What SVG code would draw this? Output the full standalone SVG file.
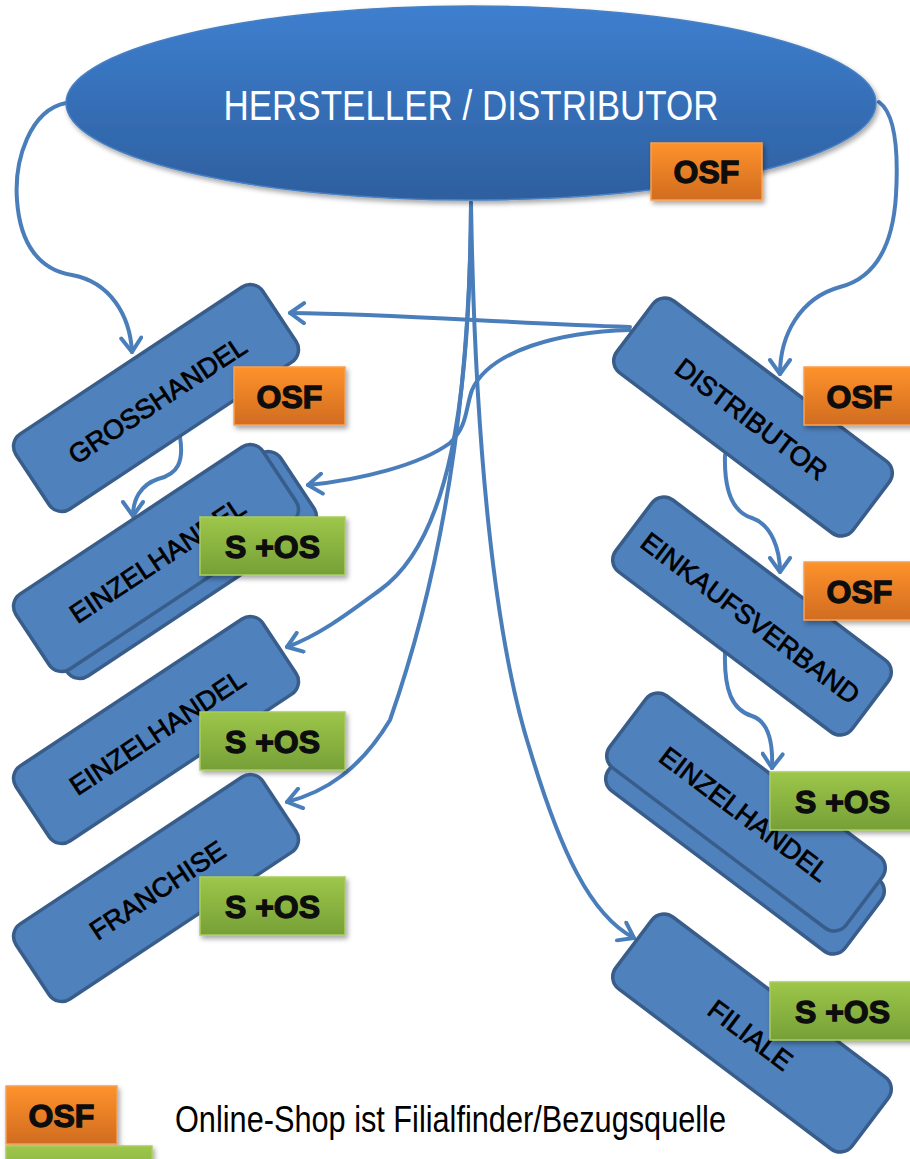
<svg xmlns="http://www.w3.org/2000/svg" width="910" height="1159" viewBox="0 0 910 1159">
<defs>
<style>
.box{fill:#4f81bd;stroke:#385d8a;stroke-width:3.5}
.bt{font-family:"Liberation Sans",Arial,sans-serif;font-size:27px;fill:#000;stroke:#000;stroke-width:0.75;text-anchor:middle}
.con{fill:none;stroke:#4a7ebb;stroke-width:4;stroke-linecap:round}
.arr{marker-end:url(#ah)}
.osf{fill:url(#og);stroke:#f7a050;stroke-width:1.5}
.sos{fill:url(#gg);stroke:#a9cd5f;stroke-width:1.5}
.badt{font-family:"Liberation Sans",Arial,sans-serif;font-weight:bold;font-size:32px;fill:#0d0d0d;stroke:#0d0d0d;stroke-width:1.3;text-anchor:middle}
</style>
<linearGradient id="eg" x1="0" y1="0" x2="0" y2="1">
<stop offset="0" stop-color="#3e7fcf"/>
<stop offset="1" stop-color="#2d5f9f"/>
</linearGradient>
<linearGradient id="og" x1="0" y1="0" x2="0" y2="1">
<stop offset="0" stop-color="#fe922c"/>
<stop offset="1" stop-color="#d16c20"/>
</linearGradient>
<linearGradient id="gg" x1="0" y1="0" x2="0" y2="1">
<stop offset="0" stop-color="#9dc64a"/>
<stop offset="1" stop-color="#76a037"/>
</linearGradient>
<filter id="sh" x="-20%" y="-20%" width="150%" height="160%">
<feDropShadow dx="2" dy="3" stdDeviation="2.5" flood-color="#000" flood-opacity="0.35"/>
</filter>
<marker id="ah" viewBox="0 0 20 24" refX="17" refY="12" markerWidth="20" markerHeight="24" markerUnits="userSpaceOnUse" orient="auto">
<path d="M3,2 L17,12 L3,22" fill="none" stroke="#4a7ebb" stroke-width="4" stroke-linecap="round" stroke-linejoin="round"/>
</marker>
</defs>

<g id="connectors">
<path class="con arr" d="M 66,103 C 30,110 14,160 17,200 C 20,245 40,270 72,275 C 110,282 130,315 132,352"/>
<path class="con arr" d="M 879,102 C 897,115 898,160 896,195 C 893,245 875,278 840,287 C 800,298 780,335 780,374"/>
<path class="con arr" d="M 180,437 C 184,462 178,474 158,479 C 140,485 133,500 133,516"/>
<path class="con arr" d="M 725,455 C 724,490 732,512 752,518 C 772,525 780,550 780,572"/>
<path class="con arr" d="M 725,653 C 724,690 732,710 752,716 C 770,722 773,745 772,768"/>
<path class="con arr" d="M 630,327 C 500,323 400,314 290,313"/>
<path class="con arr" d="M 630,330 C 560,332 490,350 472,390 C 465,410 468,425 450,443 C 420,465 360,480 308,485"/>
<path class="con arr" d="M 471,203 C 470,400 450,540 380,590 C 350,612 320,635 287,647"/>
<path class="con arr" d="M 471,203 C 470,430 432,600 390,720 C 360,770 325,792 287,802"/>
<path class="con arr" d="M 471,203 C 475,450 495,640 530,750 C 560,850 590,915 634,938"/>
</g>

<g id="hersteller">
<ellipse cx="471" cy="103" rx="405" ry="97" fill="url(#eg)" stroke="#4a80c4" stroke-width="1.5" filter="url(#sh)"/>
<text x="471" y="120" font-family="'Liberation Sans',Arial,sans-serif" font-size="42" fill="#fff" text-anchor="middle" textLength="495" lengthAdjust="spacingAndGlyphs">HERSTELLER / DISTRIBUTOR</text>
<rect class="osf" x="651" y="143" width="111" height="57" filter="url(#sh)"/>
<text class="badt" x="706.5" y="183">OSF</text>
</g>

<g id="grosshandel">
<g transform="translate(156,398) rotate(-33.5)">
<rect class="box" x="-148" y="-45" width="296" height="90" rx="15"/>
<text class="bt" x="0" y="12">GROSSHANDEL</text>
</g>
<rect class="osf" x="234" y="367" width="111" height="58" filter="url(#sh)"/>
<text class="badt" x="289.5" y="407.5">OSF</text>
</g>

<g id="einzelhandel-left-1">
<g transform="translate(174,565) rotate(-33.5)">
<rect class="box" x="-148" y="-45" width="296" height="90" rx="15"/>
</g>
<g transform="translate(156,558) rotate(-33.5)">
<rect class="box" x="-148" y="-45" width="296" height="90" rx="15"/>
<text class="bt" x="0" y="12">EINZELHANDEL</text>
</g>
<rect class="sos" x="200" y="517" width="145" height="58" filter="url(#sh)"/>
<text class="badt" x="272.5" y="557.5">S +OS</text>
</g>

<g id="einzelhandel-left-2">
<g transform="translate(156,730) rotate(-33.5)">
<rect class="box" x="-148" y="-45" width="296" height="90" rx="15"/>
<text class="bt" x="0" y="12">EINZELHANDEL</text>
</g>
<rect class="sos" x="200" y="712" width="145" height="58" filter="url(#sh)"/>
<text class="badt" x="272.5" y="752.5">S +OS</text>
</g>

<g id="franchise">
<g transform="translate(156,888) rotate(-33.5)">
<rect class="box" x="-148" y="-45" width="296" height="90" rx="15"/>
<text class="bt" x="0" y="12">FRANCHISE</text>
</g>
<rect class="sos" x="200" y="877" width="145" height="58" filter="url(#sh)"/>
<text class="badt" x="272.5" y="917.5">S +OS</text>
</g>

<g id="distributor">
<g transform="translate(753,417) rotate(37)">
<rect class="box" x="-148" y="-45" width="296" height="90" rx="15"/>
<text class="bt" x="0" y="12">DISTRIBUTOR</text>
</g>
<rect class="osf" x="804" y="367" width="111" height="58" filter="url(#sh)"/>
<text class="badt" x="859.5" y="407.5">OSF</text>
</g>

<g id="einkaufsverband">
<g transform="translate(752,616) rotate(37)">
<rect class="box" x="-148" y="-45" width="296" height="90" rx="15"/>
<text class="bt" x="0" y="12">EINKAUFSVERBAND</text>
</g>
<rect class="osf" x="804" y="562" width="111" height="58" filter="url(#sh)"/>
<text class="badt" x="859.5" y="602.5">OSF</text>
</g>

<g id="einzelhandel-right">
<g transform="translate(745,835) rotate(37)">
<rect class="box" x="-148" y="-45" width="296" height="90" rx="15"/>
</g>
<g transform="translate(746,812) rotate(37)">
<rect class="box" x="-148" y="-45" width="296" height="90" rx="15"/>
<text class="bt" x="0" y="12">EINZELHANDEL</text>
</g>
<rect class="sos" x="770" y="772" width="145" height="58" filter="url(#sh)"/>
<text class="badt" x="842.5" y="812.5">S +OS</text>
</g>

<g id="filiale">
<g transform="translate(752,1033) rotate(37)">
<rect class="box" x="-148" y="-45" width="296" height="90" rx="15"/>
<text class="bt" x="0" y="12">FILIALE</text>
</g>
<rect class="sos" x="770" y="982" width="145" height="58" filter="url(#sh)"/>
<text class="badt" x="842.5" y="1022.5">S +OS</text>
</g>

<g id="legend">
<rect class="osf" x="6" y="1086" width="111" height="58" filter="url(#sh)"/>
<text class="badt" x="61.5" y="1126.5">OSF</text>
<rect class="sos" x="6" y="1146" width="146" height="58" filter="url(#sh)"/>
<text x="175" y="1132" font-family="'Liberation Sans',Arial,sans-serif" font-size="36" fill="#000" textLength="551" lengthAdjust="spacingAndGlyphs">Online-Shop ist Filialfinder/Bezugsquelle</text>
</g>
</svg>
